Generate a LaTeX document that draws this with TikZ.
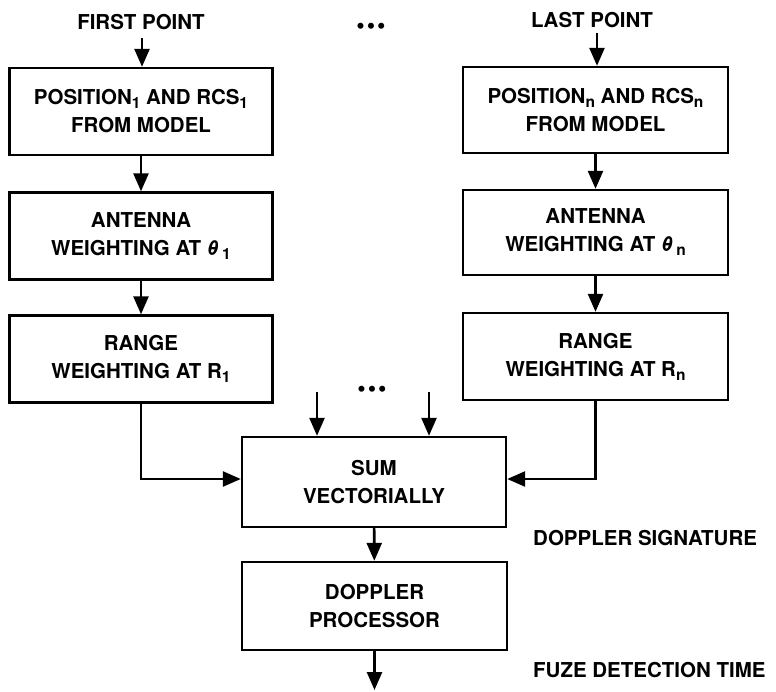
\documentclass[tikz,border=0pt]{standalone}
\usepackage{fontspec}
\setmainfont{TeX Gyre Heros}
\usetikzlibrary{arrows.meta}
\tikzset{
  blk/.style={draw, line width=2.4pt, minimum width=263pt, minimum height=87pt, align=center, inner sep=0pt,
    font=\bfseries\fontsize{20.5}{28}\selectfont},
  lbl/.style={font=\bfseries\fontsize{20.5}{28}\selectfont, inner sep=0pt},
  flow/.style={line width=2.6pt, -{Triangle[width=15pt,length=18pt]}},
  dotsnode/.style={font=\fontsize{24}{24}\selectfont, inner sep=0pt}
}
\newcommand{\sbs}[1]{\raisebox{-4pt}{\fontsize{15.5}{15.5}\selectfont #1}}
\begin{document}
\begin{tikzpicture}[x=1pt,y=-1pt]
\useasboundingbox (0,0) rectangle (776,691);
% top labels
\node[lbl] (first) at (141,22) {FIRST POINT};
\node[lbl] (last) at (592,20) {LAST POINT};
\node[dotsnode] (dotsA) at (371,29) {\textbullet\hspace{2pt}\textbullet\hspace{2pt}\textbullet};
% left column
\node[blk] (b1L) at (141,111.5) {POSITION\sbs{1} AND RCS\sbs{1}\\FROM MODEL};
\node[blk] (b2L) at (141,236) {ANTENNA\\WEIGHTING AT \textit{θ}\,\sbs{1}};
\node[blk] (b3L) at (141,359) {RANGE\\WEIGHTING AT R\sbs{1}};
% right column
\node[blk, minimum width=265pt, minimum height=86pt] (b1R) at (595.5,110) {POSITION\sbs{n} AND RCS\sbs{n}\\FROM MODEL};
\node[blk, minimum width=265pt, minimum height=85pt] (b2R) at (595.5,232.5) {ANTENNA\\WEIGHTING AT \textit{θ}\,\sbs{n}};
\node[blk, minimum width=265pt] (b3R) at (595.5,356.5) {RANGE\\WEIGHTING AT R\sbs{n}};
% sum and processor
\node[blk, minimum width=264pt, minimum height=90pt] (sum) at (374,482) {SUM\\VECTORIALLY};
\node[blk, minimum width=265pt, minimum height=88pt] (dop) at (374.5,606) {DOPPLER\\PROCESSOR};
\node[dotsnode] (dotsB) at (372,392) {\textbullet\hspace{2pt}\textbullet\hspace{2pt}\textbullet};
% labels right
\node[lbl, anchor=west] (sig) at (533,538) {DOPPLER SIGNATURE};
\node[lbl, anchor=west] (fuze) at (533,670) {FUZE DETECTION TIME};
% coordinates
\coordinate (inA) at (317,392);
\coordinate (inB) at (429,392);
\coordinate (outEnd) at (374.5,690);
\coordinate (firstTop) at (142,38);
\coordinate (lastTop) at (597,33);
% arrows
\draw[flow] (firstTop) -- (firstTop |- b1L.north);
\draw[flow] (lastTop) -- (lastTop |- b1R.north);
\draw[flow] (b1L) -- (b2L);
\draw[flow] (b2L) -- (b3L);
\draw[flow] (b1R) -- (b2R);
\draw[flow] (b2R) -- (b3R);
\draw[flow] (b3L.south) |- ([yshift=3pt]sum.west);
\draw[flow] (b3R.south) |- ([yshift=3pt]sum.east);
\draw[flow] (inA) -- (inA |- sum.north);
\draw[flow] (inB) -- (inB |- sum.north);
\draw[flow] (sum) -- (dop);
\draw[flow] (dop) -- (outEnd);
\end{tikzpicture}
\end{document}
